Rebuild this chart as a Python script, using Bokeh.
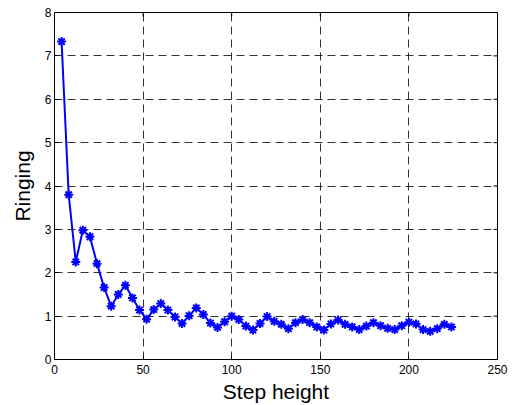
import math
from bokeh.plotting import figure
from bokeh.models import Range1d, FixedTicker
from bokeh.embed import file_html
from bokeh.resources import INLINE

step_height = [4, 8, 12, 16, 20, 24, 28, 32, 36, 40, 44, 48, 52, 56, 60, 64, 68, 72, 76, 80,
               84, 88, 92, 96, 100, 104, 108, 112, 116, 120, 124, 128, 132, 136, 140, 144,
               148, 152, 156, 160, 164, 168, 172, 176, 180, 184, 188, 192, 196, 200, 204,
               208, 212, 216, 220, 224]
ringing = [7.33, 3.80, 2.25, 2.98, 2.83, 2.21, 1.66, 1.23, 1.50, 1.71, 1.42, 1.14, 0.93,
           1.15, 1.29, 1.14, 0.98, 0.83, 1.01, 1.19, 1.04, 0.84, 0.74, 0.87, 1.00, 0.92,
           0.77, 0.68, 0.83, 0.99, 0.88, 0.81, 0.71, 0.85, 0.92, 0.85, 0.75, 0.68, 0.82,
           0.91, 0.81, 0.75, 0.69, 0.77, 0.85, 0.78, 0.72, 0.69, 0.78, 0.86, 0.82, 0.69,
           0.65, 0.71, 0.81, 0.75]
x_ticks = [0, 50, 100, 150, 200, 250]
y_ticks = [0, 1, 2, 3, 4, 5, 6, 7, 8]

FONT = "Liberation Sans"

p = figure(width=512, height=405, output_backend="svg", toolbar_location=None,
           x_range=Range1d(x_ticks[0], x_ticks[-1]), y_range=Range1d(y_ticks[0], y_ticks[-1]),
           min_border_left=54, min_border_right=15, min_border_top=12, min_border_bottom=45)
p.outline_line_color = "black"
p.outline_line_width = 1

for ax in (p.xaxis[0], p.yaxis[0]):
    ax.major_tick_in = 4
    ax.major_tick_out = 0
    ax.minor_tick_line_color = None
    ax.axis_line_color = "black"
    ax.major_tick_line_color = "black"
    ax.major_label_text_font = FONT
    ax.major_label_text_font_size = "12px"
    ax.major_label_text_color = "black"
    ax.axis_label_text_font = FONT
    ax.axis_label_text_font_size = "21px"
    ax.axis_label_text_font_style = "normal"
    ax.axis_label_text_color = "black"

p.xaxis[0].ticker = FixedTicker(ticks=x_ticks)
p.yaxis[0].ticker = FixedTicker(ticks=y_ticks)
p.xaxis[0].axis_label = "Step height"
p.yaxis[0].axis_label = "Ringing"
p.xaxis[0].major_label_standoff = 5
p.xaxis[0].axis_label_standoff = 3
p.yaxis[0].major_label_standoff = 3
p.yaxis[0].axis_label_standoff = 8

p.xgrid[0].ticker = FixedTicker(ticks=x_ticks)
p.ygrid[0].ticker = FixedTicker(ticks=y_ticks)
for g in (p.xgrid[0], p.ygrid[0]):
    g.grid_line_color = "black"
    g.grid_line_alpha = 0.8
    g.grid_line_dash = "8 5"
    g.grid_line_width = 1

# inward ticks on the top and right edges of the box
p.scatter(x_ticks, [y_ticks[-1]] * len(x_ticks), marker="dash", size=8, angle=math.pi / 2,
          line_color="black", line_width=1)
p.scatter([x_ticks[-1]] * len(y_ticks), y_ticks, marker="dash", size=8,
          line_color="black", line_width=1)

p.line(step_height, ringing, line_color="#0000ff", line_width=2)
p.scatter(step_height, ringing, marker="asterisk", size=9, line_color="#0000ff", line_width=2)

open("out.html", "w").write(file_html(p, INLINE))
